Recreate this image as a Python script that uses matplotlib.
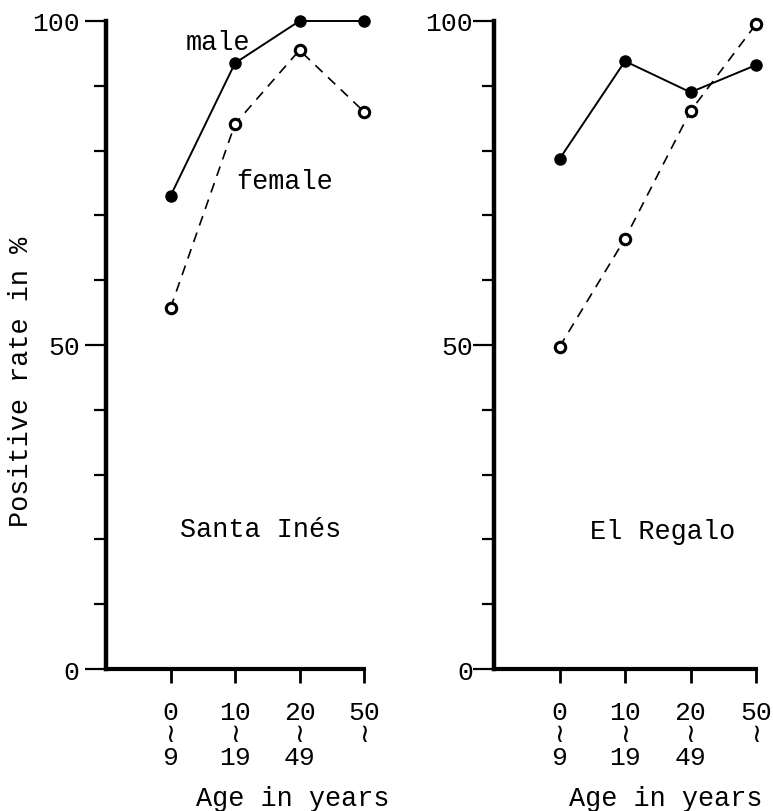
import matplotlib
matplotlib.use("Agg")
import matplotlib.pyplot as plt
from matplotlib.ticker import FixedLocator, NullFormatter

plt.rcParams['font.family'] = ['Liberation Mono', 'DejaVu Sans Mono', 'DejaVu Sans']

age_groups = ["0\n≀\n9", "10\n≀\n19", "20\n≀\n49", "50\n≀\n "]
x_pos = [1, 2, 3, 4]

santa_ines_male = [73.0, 93.5, 100.0, 100.0]
santa_ines_female = [55.7, 84.1, 95.5, 86.0]
el_regalo_male = [78.7, 93.8, 89.0, 93.2]
el_regalo_female = [49.7, 66.4, 86.1, 99.5]

y_major = [0, 50, 100]
y_minor = [10, 20, 30, 40, 60, 70, 80, 90]

W, H = 773, 812
fig = plt.figure(figsize=(W / 100, H / 100), dpi=100)

FS = 19.4
TFS = 19

def make_ax(left_px, right_px, label_pad):
    ax = fig.add_axes([left_px / W, 1 - 670 / H, (right_px - left_px) / W, 648 / H])
    ax.set_xlim(0, 4)
    ax.set_ylim(0, 100)
    for s in ['top', 'right']:
        ax.spines[s].set_visible(False)
    ax.spines['left'].set_linewidth(3.2)
    ax.spines['bottom'].set_linewidth(3.0)
    ax.spines['left'].set_capstyle('projecting')
    ax.spines['bottom'].set_capstyle('projecting')
    ax.yaxis.set_major_locator(FixedLocator(y_major))
    ax.yaxis.set_minor_locator(FixedLocator(y_minor))
    ax.yaxis.set_minor_formatter(NullFormatter())
    ax.tick_params(axis='y', which='major', direction='out', length=15, width=1.6,
                   labelsize=TFS, pad=label_pad)
    ax.tick_params(axis='y', which='minor', direction='out', length=9, width=1.6)
    ax.set_xticks(x_pos)
    ax.set_xticklabels(age_groups, linespacing=0.92)
    ax.tick_params(axis='x', which='major', direction='out', length=10, width=2.0,
                   labelsize=TFS, pad=12)
    ax.patch.set_visible(False)
    return ax

ax1 = make_ax(106, 364, 4)
ax2 = make_ax(494, 756, 0)

def draw(ax, male, female):
    ax.plot(x_pos, male, '-', color='black', lw=1.4, marker='o', ms=8,
            mfc='black', mec='black', clip_on=False, zorder=3)
    ax.plot(x_pos, female, '--', color='black', lw=1.2, dashes=(6, 4.5), marker='o', ms=7.5,
            mfc='white', mec='black', mew=2.2, clip_on=False, zorder=3)

draw(ax1, santa_ines_male, santa_ines_female)
draw(ax2, el_regalo_male, el_regalo_female)

def px(x, y):
    return x / W, 1 - y / H

fig.text(*px(218, 43), "male", fontsize=FS, ha='center', va='center')
fig.text(*px(285, 182), "female", fontsize=FS, ha='center', va='center')
fig.text(*px(261, 530), "Santa Inés", fontsize=FS, ha='center', va='center')
fig.text(*px(663, 532), "El Regalo", fontsize=FS, ha='center', va='center')
fig.text(*px(293, 799), "Age in years", fontsize=FS, ha='center', va='center')
fig.text(*px(666, 799), "Age in years", fontsize=FS, ha='center', va='center')
fig.text(*px(21, 382), "Positive rate in %", fontsize=FS, ha='center', va='center',
         rotation=90)

fig.savefig("out.png", dpi=100)
